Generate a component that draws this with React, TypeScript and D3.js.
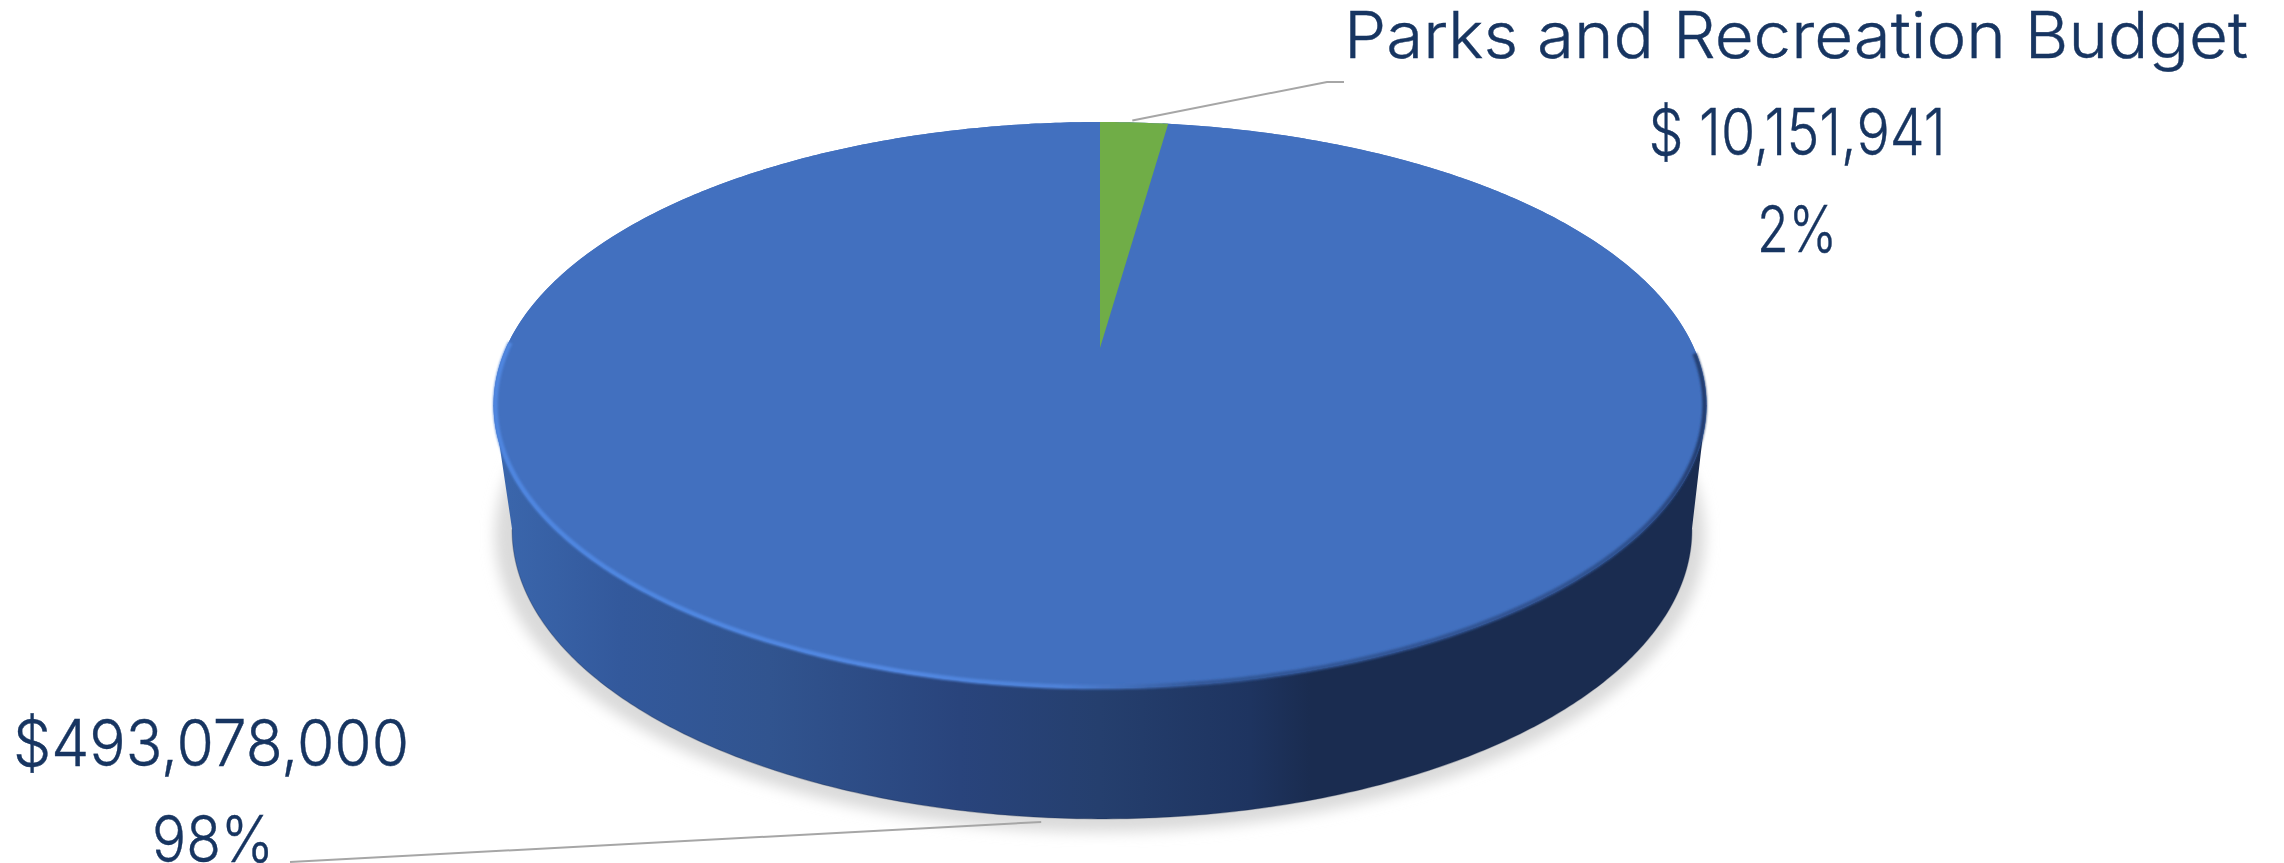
import React from "react";
import * as d3 from "d3";

const sliceNames = ["Parks and Recreation Budget", ""];
const sliceValues = [10151941, 493078000];
const valueLabels = ["$ 10,151,941", "$493,078,000"];
const percentLabels = ["2%", "98%"];
const sliceColors = ["#70ad47", "#4270bf"];

const W = 2284;
const H = 863;
const FONT = "Inter, Lato, 'Open Sans', sans-serif";
const INK = "#173561";

// perspective mapping of the unit disc on to the picture
const cx = 1100;
const persp = -0.2014;
const yA = 201.4;
const yB = 348;
const spreadX = 594;
// the drawn 3-D view widens the far slice a little
const farSliceStretch = 1.09;

type Face = { sx: number; sy: number; dx: number; dy: number };
const topFace: Face = { sx: 1, sy: 1, dx: 0, dy: 0 };
const rimFace: Face = { sx: 0.997, sy: 0.997, dx: 0, dy: 0 };
const bottomFace: Face = { sx: 0.9728, sy: 1.021, dx: 2, dy: 125 };
const shadowFace: Face = { sx: 0.9975, sy: 1.046, dx: 0, dy: 131 };

function project(angle: number, r = 1, f: Face = topFace): [number, number] {
  const u = Math.sin(angle) * r;
  const v = -Math.cos(angle) * r;
  const w = 1 + persp * v;
  const x = cx + (spreadX * u) / w;
  const y = (yA * v + yB) / w;
  const ex = 1100;
  const ey = 405;
  return [ex + (x - ex) * f.sx + f.dx, ey + (y - ey) * f.sy + f.dy];
}

const line = d3.line<[number, number]>().x((d) => d[0]).y((d) => d[1]);

function arcPoints(a0: number, a1: number, f: Face = topFace) {
  const n = Math.max(4, Math.ceil(Math.abs(a1 - a0) / 0.01));
  return d3.range(n + 1).map((i) => project(a0 + ((a1 - a0) * i) / n, 1, f));
}

const arcs = d3.pie<number>().sort(null)(sliceValues);

const wallStops = [
  [493, "#3b67ad"],
  [620, "#33599c"],
  [770, "#31548f"],
  [960, "#29447c"],
  [1100, "#253f6e"],
  [1250, "#1e3460"],
  [1310, "#1a2c50"],
  [1710, "#1a2c50"],
] as [number, string][];

const rimStops = [
  [493, "#4f86e0"],
  [900, "#5288e2"],
  [1060, "#4f82d8"],
  [1200, "#34599a"],
  [1640, "#2f5190"],
  [1710, "#223b6c"],
] as [number, string][];

export default function App() {
  const top = arcPoints(0, 2 * Math.PI);
  const leftA = (-101.6 * Math.PI) / 180;
  const rightA = (101.6 * Math.PI) / 180;
  const topLeft = project(leftA);
  const topRight = project(rightA);
  const bottomOutline = arcPoints((3 * Math.PI) / 2 - 0.2, Math.PI / 2 + 0.2, bottomFace);
  const wallPts: [number, number][] = [topLeft, ...bottomOutline, topRight];
  const rim = arcPoints((3 * Math.PI) / 2 + 0.02, Math.PI / 2 + 0.02, rimFace);
  const shadow = arcPoints(0, 2 * Math.PI, shadowFace);

  const gMid = (arcs[0].startAngle + arcs[0].endAngle) / 2;
  const bMid = (arcs[1].startAngle + arcs[1].endAngle) / 2;
  const gEdge = project(gMid);
  const bEdge = project(bMid, 1, bottomFace);

  const textProps = {
    fontFamily: FONT,
    fontWeight: 300,
    fill: INK,
    stroke: INK,
    strokeWidth: 0.4,
    fontSize: 64,
    textAnchor: "middle" as const,
    lengthAdjust: "spacingAndGlyphs" as const,
  };

  return (
    <svg width={W} height={H} style={{ position: "absolute", left: 0, top: 0 }}>
      <defs>
        <linearGradient id="wall" gradientUnits="userSpaceOnUse" x1={493} x2={1710} y1={0} y2={0}>
          {wallStops.map(([x, c]) => (
            <stop key={x} offset={(x - 493) / (1710 - 493)} stopColor={c} />
          ))}
        </linearGradient>
        <linearGradient id="rim" gradientUnits="userSpaceOnUse" x1={493} x2={1710} y1={0} y2={0}>
          {rimStops.map(([x, c]) => (
            <stop key={x} offset={(x - 493) / (1710 - 493)} stopColor={c} />
          ))}
        </linearGradient>
        <filter id="soft" x="-5%" y="-5%" width="110%" height="110%">
          <feGaussianBlur stdDeviation="7" />
        </filter>
        <filter id="rimBlur" x="-5%" y="-5%" width="110%" height="110%">
          <feGaussianBlur stdDeviation="1.1" />
        </filter>
      </defs>

      <path d={line(shadow) ?? ""} fill="#dadada" filter="url(#soft)" />
      <path d={line(wallPts) + "Z"} fill="url(#wall)" />
      <path d={line(bottomOutline) ?? ""} fill="none" stroke="#16274a" strokeOpacity={0.3} strokeWidth={1.2} />

      <path d={line(top) + "Z"} fill={sliceColors[1]} />
      {arcs.slice().reverse().map((a) => {
        const end = a.index === 0 ? a.endAngle * farSliceStretch : a.endAngle;
        return (
          <path
            key={a.index}
            d={line([project(0, 0), ...arcPoints(a.startAngle, end)]) + "Z"}
            fill={sliceColors[a.index]}
          />
        );
      })}
      <path d={line(rim) ?? ""} fill="none" stroke="url(#rim)" strokeWidth={4.5} filter="url(#rimBlur)" />

      <polyline
        points={`${gEdge[0] + 1},${gEdge[1] - 2} 1327,82 1344,82`}
        fill="none"
        stroke="#a6a6a6"
        strokeWidth={2}
      />
      <polyline
        points={`290,862 ${bEdge[0] - 15},${bEdge[1] + 4}`}
        fill="none"
        stroke="#a6a6a6"
        strokeWidth={2}
      />

      <text {...textProps} x={1796} y={58} textLength={904}>
        {sliceNames[0]}
      </text>
      <text {...textProps} x={1797} y={155} textLength={297}>
        {valueLabels[0]}
      </text>
      <text {...textProps} x={1797} y={252} textLength={80}>
        {percentLabels[0]}
      </text>
      <text {...textProps} x={211} y={766} textLength={396}>
        {valueLabels[1]}
      </text>
      <text {...textProps} x={213} y={862} textLength={122}>
        {percentLabels[1]}
      </text>
    </svg>
  );
}
